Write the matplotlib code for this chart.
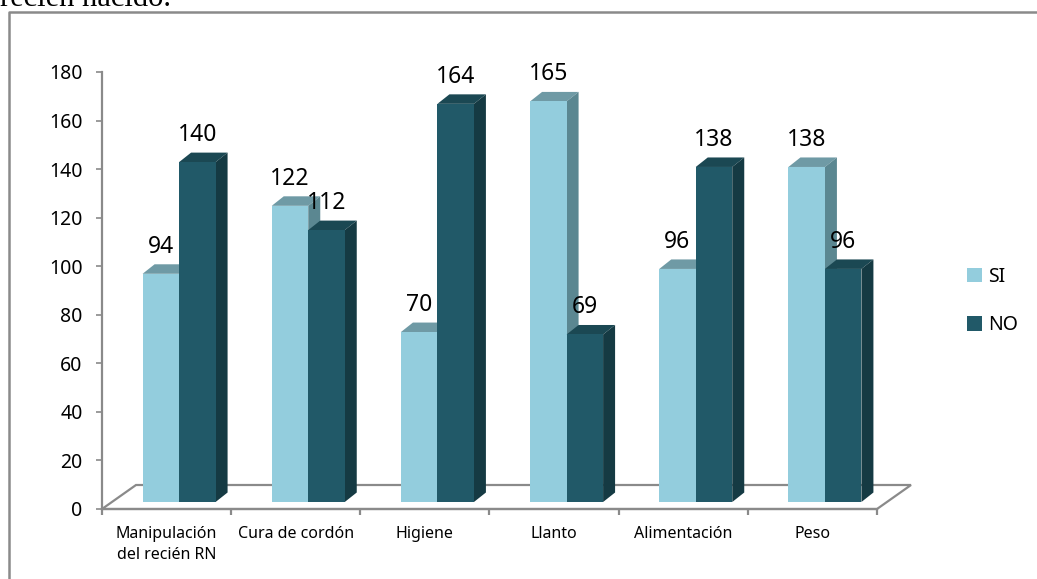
import matplotlib.pyplot as plt
import numpy as np
from matplotlib.patches import Polygon, Patch
from matplotlib.lines import Line2D

categorias = ["Manipulación\ndel recién RN", "Cura de cordón", "Higiene",
              "Llanto", "Alimentación", "Peso"]
si = [94, 122, 70, 165, 96, 138]
no = [140, 112, 164, 69, 138, 96]

plt.rcParams['font.family'] = ['Noto Sans', 'DejaVu Sans']

W, H, DPI = 1037, 579, 100
fig = plt.figure(figsize=(W / DPI, H / DPI), dpi=DPI)

# area de trazado (pixeles de la figura)
x_izq, x_der = 102, 877
y_cero, y_max = 509, 72
ax = fig.add_axes([x_izq / W, (H - y_cero) / H, (x_der - x_izq) / W, (y_cero - y_max) / H])
ax.set_xlim(-0.5, 5.5)
ax.set_ylim(0, 180)

px_x = (x_der - x_izq) / 6.0
px_y = (y_cero - y_max) / 180.0

# profundidad del piso y de las barras
dx_piso, dy_piso = 34 / px_x, 24 / px_y
base = 7 / px_y
ancho = 36.5 / px_x
dx_b, dy_b = 12 / px_x, 9.5 / px_y
desplaz = -24 / px_x

gris = '#8a8a8a'
piso = Polygon([(-0.5, 0), (5.5, 0), (5.5 + dx_piso, dy_piso), (-0.5 + dx_piso, dy_piso)],
               closed=True, fill=False, edgecolor=gris, lw=1.6, clip_on=False, zorder=1)
ax.add_patch(piso)

colores = {
    'SI': ('#93cddd', '#6f9aa5', '#5b8791'),
    'NO': ('#215968', '#1b4853', '#153a43'),
}


def barra(x0, valor, frente, arriba, lado):
    tope = base + valor
    ax.add_patch(Polygon([(x0, tope), (x0 + ancho, tope), (x0 + ancho + dx_b, tope + dy_b),
                          (x0 + dx_b, tope + dy_b)], closed=True, facecolor=arriba,
                         lw=0, clip_on=False, zorder=2))
    ax.add_patch(Polygon([(x0 + ancho, base), (x0 + ancho, tope), (x0 + ancho + dx_b, tope + dy_b),
                          (x0 + ancho + dx_b, base + dy_b)], closed=True, facecolor=lado,
                         lw=0, clip_on=False, zorder=2))
    ax.bar(x0, valor, width=ancho, bottom=base, align='edge', color=frente, lw=0,
           zorder=2, clip_on=False)
    ax.annotate(str(valor), (x0 + ancho / 2, tope), xytext=(0, 19.5), textcoords='offset points',
                ha='center', va='center', fontsize=16.5, color='black', zorder=5)


for i in range(len(categorias)):
    x_si = i + desplaz
    barra(x_si, si[i], *colores['SI'])
    barra(x_si + ancho, no[i], *colores['NO'])

# ejes
for lado in ['top', 'right']:
    ax.spines[lado].set_visible(False)
ax.spines['left'].set_color(gris)
ax.spines['bottom'].set_color(gris)
ax.spines['left'].set_linewidth(1.6)
ax.spines['bottom'].set_linewidth(1.6)
ax.spines['bottom'].set_zorder(1)

ax.set_yticks(np.arange(0, 181, 20))
ax.tick_params(axis='y', length=4, width=1.2, color=gris, pad=10, labelsize=14)
ax.set_xticks(np.arange(-0.5, 5.6, 1))
ax.set_xticklabels([])
ax.tick_params(axis='x', which='major', length=4, width=1.6, color=gris, direction='out')
ax.set_xticks(np.arange(6), categorias, minor=True)
ax.tick_params(axis='x', which='minor', length=0, pad=12.5, labelsize=11.5)
for t in ax.get_xticklabels(minor=True):
    t.set_linespacing(1.35)

ax.legend(handles=[Patch(facecolor=colores['SI'][0], label='SI'),
                   Patch(facecolor=colores['NO'][0], label='NO')],
          loc='center left', bbox_to_anchor=(967 / W, 1 - 301 / H),
          bbox_transform=fig.transFigure, frameon=False, fontsize=14,
          handlelength=0.78, handleheight=0.78, handletextpad=0.3, labelspacing=1.45,
          borderpad=0, borderaxespad=0)

# marco del grafico y texto del documento
fig.add_artist(Line2D([9 / W, 9 / W, 1], [0, 1 - 12 / H, 1 - 12 / H], color=gris, lw=1.8,
                      transform=fig.transFigure))
fig.text(0, 1 - 6 / H, "recién nacido.", fontsize=22, family=['Liberation Serif'],
         va='baseline', ha='left')

fig.savefig('out.png', dpi=DPI)
